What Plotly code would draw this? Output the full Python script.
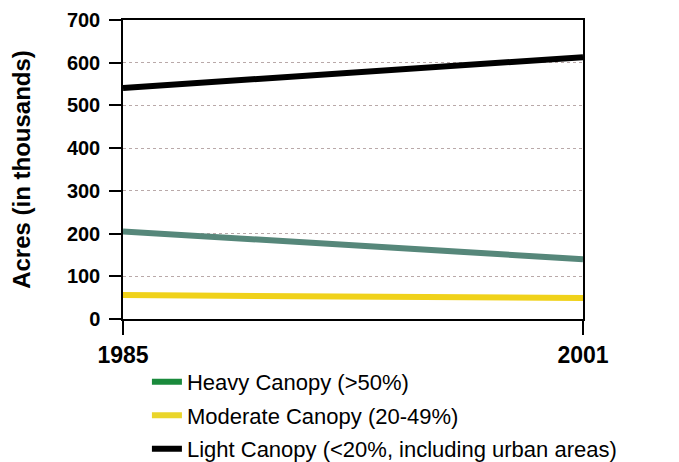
import plotly.graph_objects as go

# Canopy acreage, 1985 vs 2001 (thousands of acres)
years = [1985, 2001]
heavy = [205, 140]
moderate = [56, 49]
light = [541, 613]

series_names = [
    "Heavy Canopy (>50%)",
    "Moderate Canopy (20-49%)",
    "Light Canopy (<20%, including urban areas)",
]
line_colors = ["#56877a", "#f0d21a", "#000000"]
legend_colors = ["#1a8a3c", "#ead52a", "#000000"]

fig = go.Figure()

# data lines (legend hidden so the key can use the brighter swatch colours)
for vals, color in zip([heavy, moderate, light], line_colors):
    fig.add_trace(go.Scatter(x=years, y=vals, mode="lines",
                             line=dict(color=color, width=6),
                             showlegend=False, hoverinfo="skip"))

# legend entries
for i, (name, color) in enumerate(zip(series_names, legend_colors)):
    fig.add_trace(go.Scatter(x=[None], y=[None], mode="lines", name=name,
                             legendgroup=f"g{i}",
                             line=dict(color=color, width=6)))

axis_font = dict(family="Liberation Sans, Arial", size=20, color="black", weight="bold")

# page body adds an 8px offset, so margins are pulled in by 8px
fig.update_layout(
    width=679, height=480,
    margin=dict(l=115, r=104, t=12, b=169),
    plot_bgcolor="white", paper_bgcolor="white",
    showlegend=True,
    legend=dict(x=0.052, y=-0.14, xanchor="left", yanchor="top",
                font=dict(family="Liberation Sans, Arial", size=22, color="black"),
                tracegroupgap=2, bgcolor="rgba(0,0,0,0)"),
)

fig.update_xaxes(
    range=[1985, 2001], tickvals=years, ticktext=["1985", "2001"],
    showgrid=False, zeroline=False, automargin=False,
    showline=True, linecolor="black", linewidth=1.5, mirror=True,
    ticks="outside", ticklen=14, tickwidth=1.5, tickcolor="black",
    tickfont=dict(axis_font, size=23), ticklabelstandoff=1,
)
fig.update_yaxes(
    range=[0, 700], tickvals=[0, 100, 200, 300, 400, 500, 600, 700],
    showgrid=True, gridcolor="#b9a9a9", griddash="dot", gridwidth=1,
    zeroline=False, automargin=False,
    showline=True, linecolor="black", linewidth=1.5, mirror=True,
    ticks="outside", ticklen=12, tickwidth=1.5, tickcolor="black",
    tickfont=axis_font, ticklabelstandoff=5,
    title=dict(text="Acres (in thousands)", standoff=29,
               font=dict(axis_font, size=24)),
)

fig.write_html("out.html")
